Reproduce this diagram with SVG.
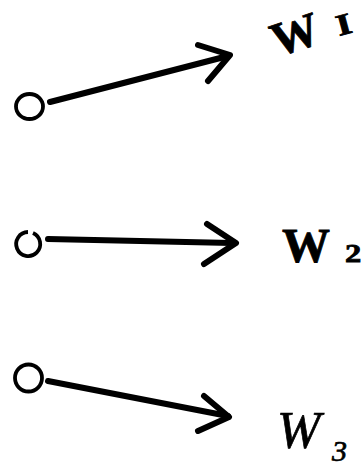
<svg xmlns="http://www.w3.org/2000/svg" width="361" height="470" viewBox="0 0 361 470">
<style>
.c{fill:none;stroke:#000;stroke-width:3.8}
.l{fill:none;stroke:#000;stroke-width:6;stroke-linecap:round;stroke-linejoin:round}
.t{font-family:"Liberation Serif",serif;fill:#000}
.b{font-weight:bold;stroke:#000;stroke-width:0.8}
.i{font-style:italic;stroke:#000;stroke-width:0.7}
</style>
<rect width="361" height="470" fill="#fff"/>
<g id="connectors">
<path class="l" d="M50,102 L228,56"/>
<path class="l" d="M198,45 L230,55 L208,81"/>
<path class="l" d="M48,239 L232,243"/>
<path class="l" d="M207,224 L236,243 L204,264"/>
<path class="l" d="M48,381 L228,416"/>
<path class="l" d="M204,396 L229,417 L198,431"/>
</g>
<g id="o1"><ellipse class="c" cx="29.5" cy="106.5" rx="13.5" ry="12.5"/></g>
<g id="o2"><path class="c" d="M28,232 A12,12 0 1 0 33,233"/></g>
<g id="o3"><ellipse class="c" cx="28.5" cy="378" rx="13.5" ry="13.5"/></g>
<g id="w1"><text class="t b" font-size="48" transform="translate(277,57) rotate(-18)">W</text>
<text class="t b" font-size="30" transform="translate(339,36) rotate(-15) scale(1.3,1)">I</text></g>
<g id="w2"><text class="t b" font-size="48" x="282" y="262">W</text>
<text class="t b" font-size="26" transform="translate(345,262) scale(1.25,1)">2</text></g>
<g id="w3"><text class="t i" font-size="52" x="277" y="448">W</text>
<text class="t i" font-size="30" x="332" y="461">3</text></g>
</svg>
